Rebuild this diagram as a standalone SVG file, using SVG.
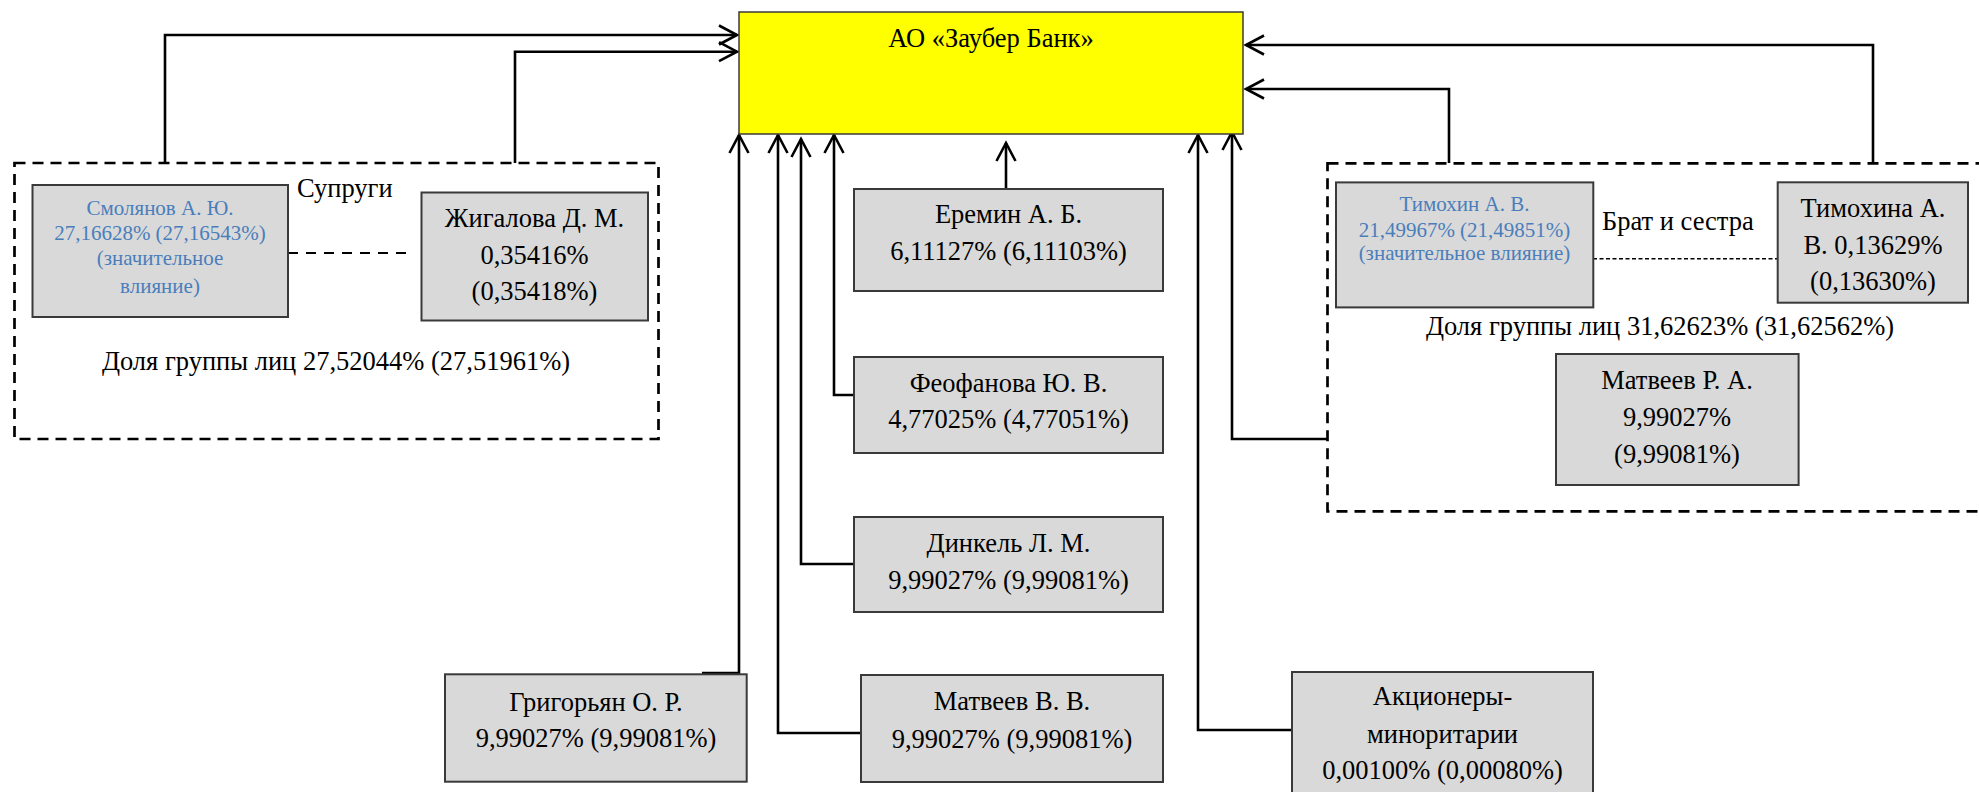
<svg xmlns="http://www.w3.org/2000/svg" width="1979" height="792" viewBox="0 0 1979 792">
<style>
  .box{fill:#d9d9d9;stroke:#3a3a3a;stroke-width:2}
  .bank{fill:#ffff00;stroke:#3a3a3a;stroke-width:1.5}
  .t{font-family:"Liberation Serif","Times New Roman",serif;font-size:26.5px;fill:#000;text-anchor:middle}
  .b{font-family:"Liberation Serif","Times New Roman",serif;font-size:21px;fill:#4a7ebb;text-anchor:middle}
  .grp{fill:none;stroke:#000;stroke-width:2.7;stroke-dasharray:11 7}
  .link{fill:none;stroke:#000;stroke-width:2;stroke-dasharray:10 8}
  .link2{fill:none;stroke:#000;stroke-width:1.4;stroke-dasharray:4 2.5}
  .c{fill:none;stroke:#000;stroke-width:2.6}
  .a{marker-end:url(#arr)}
</style>
<defs>
  <marker id="arr" markerUnits="userSpaceOnUse" markerWidth="22" markerHeight="22" viewBox="0 0 22 22" refX="19" refY="11" orient="auto" overflow="visible">
    <path d="M1,1.5 L19,11 L1,20.5" fill="none" stroke="#000" stroke-width="2.6"/>
  </marker>
</defs>
<rect width="1979" height="792" fill="#fff"/>

<g id="group-left">
  <rect class="grp" x="14.5" y="163" width="644" height="276"/>
  <text class="t" x="297" y="197" style="text-anchor:start">Супруги</text>
  <text class="t" x="336" y="370">Доля группы лиц 27,52044% (27,51961%)</text>
  <path class="link" d="M288,253 H408"/>
</g>
<g id="group-right">
  <rect class="grp" x="1327.5" y="163.3" width="700" height="348"/>
  <text class="t" x="1602" y="229.5" style="text-anchor:start">Брат и сестра</text>
  <text class="t" x="1660" y="335">Доля группы лиц 31,62623% (31,62562%)</text>
  <path class="link2" d="M1593,258.7 H1777"/>
</g>

<g id="connectors">
  <path class="c a" d="M165,163 V35 H737"/>
  <path class="c a" d="M515,163 V51.7 H737"/>
  <path class="c a" d="M1873,163 V45 H1246"/>
  <path class="c a" d="M1449,163 V89 H1246"/>
  <path class="c a" d="M702,673 H739 V135"/>
  <path class="c a" d="M861,733 H778 V135"/>
  <path class="c a" d="M854,564 H801 V139"/>
  <path class="c a" d="M854,395 H834 V135"/>
  <path class="c a" d="M1006,189 V143"/>
  <path class="c a" d="M1292,730 H1198 V135"/>
  <path class="c a" d="M1327,439 H1232 V132"/>
</g>

<g id="bank">
  <rect class="bank" x="739" y="12" width="504" height="122"/>
  <text class="t" x="991" y="46.5">АО «Заубер Банк»</text>
</g>

<g id="smolyanov">
  <rect class="box" x="32.5" y="185" width="255.5" height="132"/>
  <text class="b" x="160" y="215">Смолянов А. Ю.</text>
  <text class="b" x="160" y="240">27,16628% (27,16543%)</text>
  <text class="b" x="160" y="264.5">(значительное</text>
  <text class="b" x="160" y="293">влияние)</text>
</g>
<g id="zhigalova">
  <rect class="box" x="421.5" y="192.5" width="226.5" height="128"/>
  <text class="t" x="534.5" y="227">Жигалова Д. М.</text>
  <text class="t" x="534.5" y="263.5">0,35416%</text>
  <text class="t" x="534.5" y="300">(0,35418%)</text>
</g>
<g id="eremin">
  <rect class="box" x="854" y="189" width="309" height="102"/>
  <text class="t" x="1008.5" y="223.3">Еремин А. Б.</text>
  <text class="t" x="1008.5" y="260">6,11127% (6,11103%)</text>
</g>
<g id="feofanova">
  <rect class="box" x="854" y="357" width="309" height="96"/>
  <text class="t" x="1008.5" y="391.7">Феофанова Ю. В.</text>
  <text class="t" x="1008.5" y="428.3">4,77025% (4,77051%)</text>
</g>
<g id="dinkel">
  <rect class="box" x="854" y="517" width="309" height="95"/>
  <text class="t" x="1008.5" y="551.7">Динкель Л. М.</text>
  <text class="t" x="1008.5" y="589">9,99027% (9,99081%)</text>
</g>
<g id="grigoryan">
  <rect class="box" x="445" y="674.3" width="301.7" height="107.4"/>
  <text class="t" x="596" y="710.7">Григорьян О. Р.</text>
  <text class="t" x="596" y="746.5">9,99027% (9,99081%)</text>
</g>
<g id="matveev-vv">
  <rect class="box" x="861" y="675" width="302" height="107"/>
  <text class="t" x="1012" y="710">Матвеев В. В.</text>
  <text class="t" x="1012" y="748">9,99027% (9,99081%)</text>
</g>
<g id="minority">
  <rect class="box" x="1292" y="672" width="301" height="130"/>
  <text class="t" x="1442.5" y="705">Акционеры-</text>
  <text class="t" x="1442.5" y="742.7">миноритарии</text>
  <text class="t" x="1442.5" y="779">0,00100% (0,00080%)</text>
</g>
<g id="timokhin">
  <rect class="box" x="1336" y="182.4" width="257.3" height="125"/>
  <text class="b" x="1464.5" y="211">Тимохин А. В.</text>
  <text class="b" x="1464.5" y="236.5">21,49967% (21,49851%)</text>
  <text class="b" x="1464.5" y="260">(значительное влияние)</text>
</g>
<g id="timokhina">
  <rect class="box" x="1777.7" y="182.3" width="190.3" height="120.4"/>
  <text class="t" x="1873" y="216.7">Тимохина А.</text>
  <text class="t" x="1873" y="254">В. 0,13629%</text>
  <text class="t" x="1873" y="290">(0,13630%)</text>
</g>
<g id="matveev-ra">
  <rect class="box" x="1556" y="354" width="242.6" height="131"/>
  <text class="t" x="1677" y="388.5">Матвеев Р. А.</text>
  <text class="t" x="1677" y="425.7">9,99027%</text>
  <text class="t" x="1677" y="462.8">(9,99081%)</text>
</g>
</svg>
